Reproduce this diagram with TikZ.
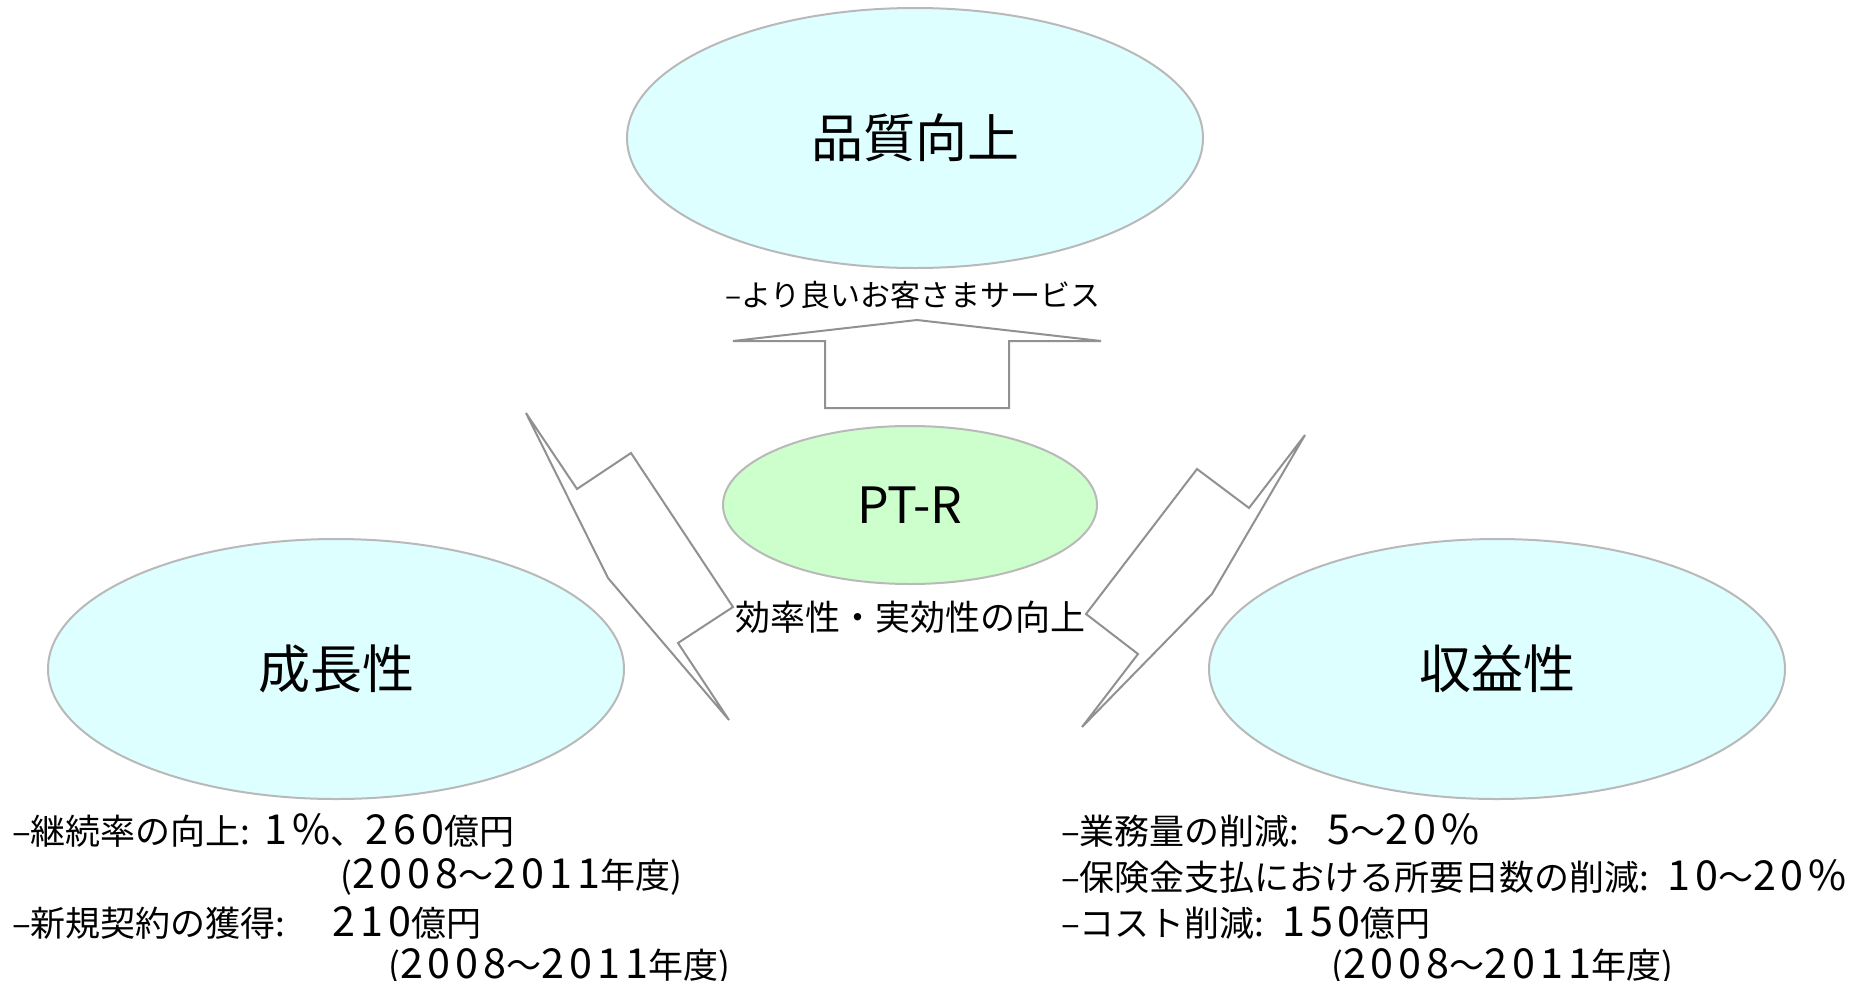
\documentclass[tikz,border=0pt]{standalone}
\usepackage{fontspec}
\setmainfont{Noto Sans CJK JP}
\newfontfamily\numsp[Scale=1.18, LetterSpace=12]{Noto Sans CJK JP}
\newcommand{\dg}[1]{{\numsp #1}}
\usetikzlibrary{shapes.geometric}
\definecolor{bluefill}{RGB}{221,255,255}
\definecolor{greenfill}{RGB}{204,255,204}
\definecolor{rimgray}{RGB}{185,185,185}
\definecolor{linegray}{RGB}{145,145,145}
\tikzset{
  bigoval/.style={ellipse, draw=rimgray, line width=2pt, fill=bluefill,
    minimum width=576pt, minimum height=260pt, inner sep=0pt,
    font=\fontsize{52}{60}\selectfont},
  ptoval/.style={ellipse, draw=rimgray, line width=2pt, fill=greenfill,
    minimum width=374pt, minimum height=158pt, inner sep=0pt,
    font=\fontsize{50}{60}\selectfont},
  boltline/.style={draw=linegray, line width=2pt, line join=miter},
  midlabel/.style={inner sep=0pt},
  itemline/.style={anchor=west, inner sep=0pt, font=\fontsize{35}{42}\selectfont},
}
\begin{document}
\begin{tikzpicture}[x=1pt,y=-1pt]
\useasboundingbox[fill=white] (0,0) rectangle (1874,980);

% ovals
\node[bigoval] (quality) at (915,138) {品質向上};
\node[bigoval] (growth) at (336,669) {成長性};
\node[bigoval] (profit) at (1497,669) {収益性};
\node[ptoval] (ptr) at (910,505) {PT-R};

% block arrow up
\draw[boltline] (917,320) -- (1101,341) -- (1009,341) -- (1009,408)
  -- (825,408) -- (825,341) -- (733,341) -- cycle;

% left lightning bolt
\draw[boltline] (526,413) -- (577,489) -- (631,453) -- (733,607)
  -- (678,643) -- (729,720) -- (608,578) -- cycle;

% right lightning bolt
\draw[boltline] (1305,435) -- (1249,508) -- (1197,469) -- (1086,614)
  -- (1138,654) -- (1082,727) -- (1212,594) -- cycle;

% labels
\node[midlabel, font=\fontsize{30}{36}\selectfont] (service) at (913,295) {–より良いお客さまサービス};
\node[midlabel, font=\fontsize{35}{42}\selectfont] (effic) at (910,617) {効率性・実効性の向上};

% left items
\node[itemline] (g1) at (12,831) {–継続率の向上:\hspace{0.4em}\dg{1\%}、\dg{260}億円};
\node[itemline] (g2) at (340,877) {(\dg{2008}～\dg{2011}年度)};
\node[itemline] (g3) at (12,923) {–新規契約の獲得:\hspace{1.35em}\dg{210}億円};
\node[itemline] (g4) at (388,967) {(\dg{2008}～\dg{2011}年度)};

% right items
\node[itemline] (p1) at (1061,831) {–業務量の削減:\hspace{0.8em}\dg{5}～\dg{20\%}};
\node[itemline] (p2) at (1061,877) {–保険金支払における所要日数の削減:\hspace{0.5em}\dg{10}～\dg{20\%}};
\node[itemline] (p3) at (1061,923) {–コスト削減:\hspace{0.5em}\dg{150}億円};
\node[itemline] (p4) at (1331,967) {(\dg{2008}～\dg{2011}年度)};
\end{tikzpicture}
\end{document}
